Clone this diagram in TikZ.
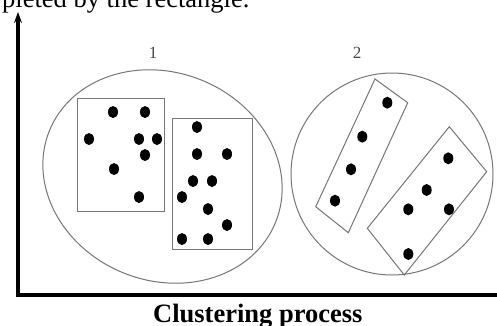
\documentclass[tikz,border=0pt]{standalone}
\usepackage{fontspec}
\setmainfont{Liberation Serif}
\usetikzlibrary{arrows.meta,shapes.geometric}
\definecolor{linegray}{RGB}{118,118,118}
\definecolor{labelgray}{RGB}{70,70,70}
\tikzset{
  axisline/.style={line width=3.3pt, line join=miter, black},
  grayline/.style={draw=linegray, line width=1pt},
  dotmark/.style={shape=ellipse, fill=black, draw=none, minimum width=10pt, minimum height=12pt, inner sep=0pt},
  boxnode/.style={grayline, shape=rectangle, inner sep=0pt, anchor=north west},
  numlabel/.style={font=\fontsize{17}{20}\selectfont, text=labelgray, inner sep=0pt},
  bigtext/.style={font=\fontsize{26.5}{30}\selectfont, inner sep=0pt, anchor=base west}
}
\begin{document}
\begin{tikzpicture}[x=1pt,y=-1pt]
\useasboundingbox (0,0) rectangle (497,325);
\clip (0,0) rectangle (497,325);
\fill[white] (0,0) rectangle (497,325);

% cropped caption line at top
\node[bigtext] (toptext) at (2,7.5) {pleted by the rectangle.};

% axes
\coordinate (ytop) at (18,12);
\coordinate (origin) at (18,295);
\coordinate (xend) at (499,295);
\draw[axisline, {Stealth[length=11pt,width=8pt]}-] (ytop) -- (origin) -- (xend);

% cluster 1
\node[grayline, shape=ellipse, minimum width=244pt, minimum height=208pt, inner sep=0pt, rotate=-22] (c1) at (162.5,176.5) {};
\node[numlabel] (l1) at (153,52.5) {1};
\node[boxnode, minimum width=87pt, minimum height=113pt] (r1a) at (77,98) {};
\node[boxnode, minimum width=80pt, minimum height=131pt] (r1b) at (172,118) {};

\foreach \n/\p in {a1/{(113,112)}, a2/{(145,112)}, a3/{(89,139)}, a4/{(139,139)}, a5/{(157,139)},
                   a6/{(145,155)}, a7/{(114,169)}, a8/{(139,197)},
                   b1/{(197,127)}, b2/{(197,154)}, b3/{(227,154)}, b4/{(193,181)}, b5/{(212,181)},
                   b6/{(182,197)}, b7/{(208,209)}, b8/{(227,225)}, b9/{(182,239)}, b10/{(208,239)}}
  \node[dotmark] (\n) at \p {};

% cluster 2
\node[grayline, shape=circle, minimum size=202pt, inner sep=0pt] (c2) at (392,174) {};
\node[numlabel] (l2) at (357,52.5) {2};

\coordinate (p1) at (375,79);
\coordinate (p2) at (407.7,102.7);
\coordinate (p3) at (348.3,232.7);
\coordinate (p4) at (315.7,206.7);
\draw[grayline] (p1) -- (p2) -- (p3) -- (p4) -- cycle;

\coordinate (q1) at (449.3,126.7);
\coordinate (q2) at (486.7,171.7);
\coordinate (q3) at (404.3,275);
\coordinate (q4) at (367.3,228.3);
\draw[grayline] (q1) -- (q2) -- (q3) -- (q4) -- cycle;

\foreach \n/\p in {c1d/{(387.3,102.7)}, c2d/{(362.3,136.7)}, c3d/{(351,169.3)}, c4d/{(335,200.7)},
                   e1/{(448.3,158.3)}, e2/{(426.7,190)}, e3/{(408.3,209.3)}, e4/{(449,209.3)}, e5/{(408.3,254)}}
  \node[dotmark] (\n) at \p {};

% caption
\node[bigtext, font=\fontsize{26.5}{30}\selectfont\bfseries] (caption) at (153,322) {Clustering process};
\end{tikzpicture}
\end{document}
